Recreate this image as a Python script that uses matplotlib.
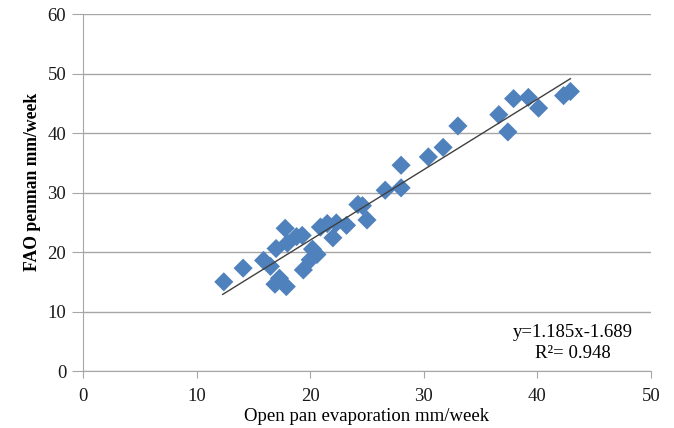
import matplotlib
matplotlib.use("Agg")
import matplotlib.pyplot as plt
import numpy as np

pan_evap = [12.4, 14.1, 15.9, 16.5, 17.0, 16.9, 17.3, 17.9, 17.8, 18.0, 18.8, 19.3,
            20.0, 19.4, 20.6, 20.2, 20.9, 21.5, 22.0, 22.3, 23.2, 24.2, 24.6, 25.0,
            26.6, 28.0, 28.0, 30.4, 31.7, 33.0, 36.6, 37.4, 37.9, 39.2, 40.1, 42.3, 42.9]
fao_penman = [15.0, 17.3, 18.6, 17.6, 20.6, 14.6, 15.6, 14.2, 24.0, 21.5, 22.6, 22.8,
              18.7, 17.0, 19.6, 20.5, 24.2, 24.8, 22.4, 24.9, 24.5, 28.0, 27.8, 25.4,
              30.4, 30.8, 34.6, 36.0, 37.6, 41.2, 43.1, 40.2, 45.8, 46.0, 44.2, 46.3, 47.0]
slope, intercept = 1.185, -1.689
fit_x = [12.3, 42.9]

plt.rcParams['font.family'] = ['Liberation Serif', 'DejaVu Serif']

fig = plt.figure(figsize=(6.74, 4.28), dpi=100)
ax = fig.add_axes([0.123, 0.133, 0.843, 0.834])

ax.scatter(pan_evap, fao_penman, marker='D', s=95, color='#4F81BD', edgecolors='none', zorder=3)
fx = np.array(fit_x)
ax.plot(fx, slope * fx + intercept, color='#404040', lw=1.0, zorder=4)

ax.set_xlim(0, 50)
ax.set_ylim(0, 60)
ax.set_xticks(range(0, 51, 10))
ax.set_yticks(range(0, 61, 10))
ax.yaxis.grid(True, color='#A6A6A6', lw=1.0)
ax.set_axisbelow(True)
for s in ['top', 'right']:
    ax.spines[s].set_visible(False)
for s in ['left', 'bottom']:
    ax.spines[s].set_color('#A6A6A6')
ax.tick_params(axis='both', colors='#A6A6A6', labelcolor='#1a1a1a', labelsize=13.5)
ax.tick_params(axis='y', length=8, pad=4)
ax.tick_params(axis='x', length=5, pad=7)

ax.set_xlabel('Open pan evaporation mm/week', fontsize=13.5, labelpad=2)
ax.set_ylabel('FAO penman mm/week', fontsize=12.7, fontweight='bold')
ax.yaxis.set_label_coords(-0.073, 0.53)

ax.text(43.1, 5.7, 'y=1.185x-1.689', ha='center', va='baseline', fontsize=13.5)
ax.text(43.1, 2.2, 'R²= 0.948', ha='center', va='baseline', fontsize=13.5)

fig.savefig('out.png', dpi=100)
